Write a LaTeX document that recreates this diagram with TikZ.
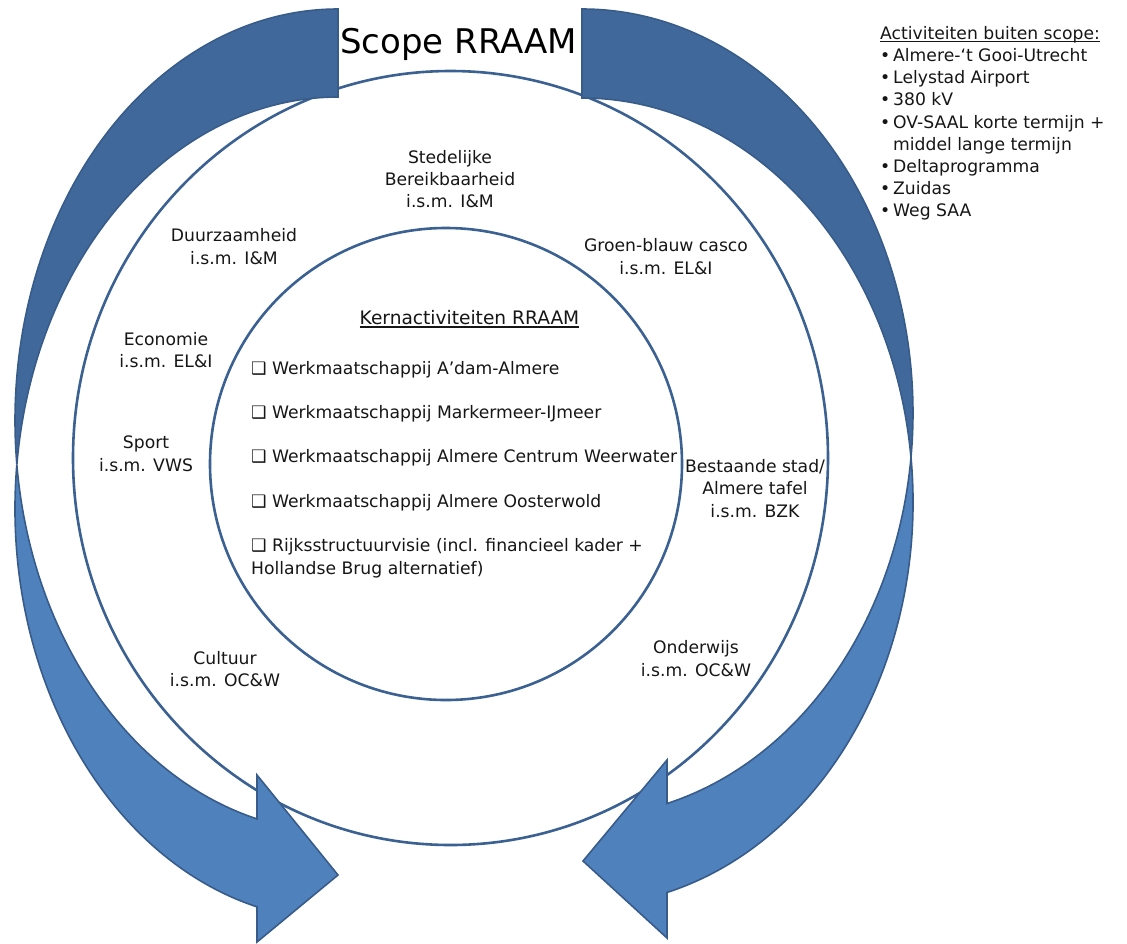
\documentclass[tikz,border=0pt]{standalone}
\usepackage{fontspec}
\setmainfont{DejaVu Sans}
\definecolor{ringc}{RGB}{59,97,146}
\definecolor{backfill}{RGB}{64,104,154}
\definecolor{frontfill}{RGB}{79,129,189}
\definecolor{bandline}{RGB}{56,92,138}
\definecolor{txt}{RGB}{22,22,22}
\newcommand\ulx[1]{\setbox0\hbox{#1}\rlap{\rule[-2.6pt]{\wd0}{1.1pt}}\box0}
\begin{document}
\begin{tikzpicture}[x=1pt,y=-1pt,
  ring/.style={draw=ringc, line width=2.6pt},
  band/.style={draw=bandline, line width=1.6pt, line join=miter},
  lbl/.style={align=center, font=\fontsize{17.2}{22.3}\selectfont, text=txt, inner sep=0pt},
  item/.style={align=left, anchor=west, font=\fontsize{17.2}{22.3}\selectfont, text=txt, inner sep=0pt},
]
\useasboundingbox (0,0) rectangle (1127,943);
\fill[white] (0,0) rectangle (1127,943);

% rings
\draw[ring] (450.5,458) ellipse [x radius=377.5, y radius=387];
\draw[ring] (446,464) circle [radius=236];

% left curved arrow: back part (between ellipse E1 centre (338,420.5) and E2 centre (338,508.5))
\filldraw[band, fill=backfill] (338,9)
  arc[start angle=270, end angle=173.86, x radius=323, y radius=411.5]
  arc[start angle=186.14, end angle=270, x radius=323, y radius=411.5] -- cycle;
% left curved arrow: front part with head
\filldraw[band, fill=frontfill] (16.85,464.5)
  arc[start angle=186.14, end angle=104.52, x radius=323, y radius=411.5]
  -- (257,942) -- (338,875) -- (257,775) -- (257,818.9)
  arc[start angle=104.52, end angle=173.86, x radius=323, y radius=411.5] -- cycle;

% right curved arrow: back part (E1 centre (582,413), E2 centre (582,502))
\filldraw[band, fill=backfill] (582,9)
  arc[start angle=270, end angle=366.324, x radius=331, y radius=404]
  arc[start angle=-6.324, end angle=-90, x radius=331, y radius=404] -- cycle;
% right curved arrow: front part with head
\filldraw[band, fill=frontfill] (911,457.5)
  arc[start angle=-6.324, end angle=75.12, x radius=331, y radius=404]
  -- (667,938) -- (583,861) -- (667,760) -- (667,803.5)
  arc[start angle=75.12, end angle=6.324, x radius=331, y radius=404] -- cycle;

% title
\node[anchor=base west, inner sep=0pt, text=black, font=\fontsize{34}{40}\selectfont] (title) at (340,53) {Scope RRAAM};

% ring labels
\node[lbl] (sted) at (450,181) {\strut Stedelijke\\\strut Bereikbaarheid\\\strut i.s.m. I\&M};
\node[lbl] (duur) at (234,248.5) {\strut Duurzaamheid\\\strut i.s.m. I\&M};
\node[lbl] (groen) at (666,258.5) {\strut Groen-blauw casco\\\strut i.s.m. EL\&I};
\node[lbl] (econ) at (166,352) {\strut Economie\\\strut i.s.m. EL\&I};
\node[lbl] (sport) at (146,455.5) {\strut Sport\\\strut i.s.m. VWS};
\node[lbl] (best) at (755,490.5) {\strut Bestaande stad/\\\strut Almere tafel\\\strut i.s.m. BZK};
\node[lbl] (cult) at (225,671) {\strut Cultuur\\\strut i.s.m. OC\&W};
\node[lbl] (onder) at (696,660.5) {\strut Onderwijs\\\strut i.s.m. OC\&W};

% core activities
\node[lbl, font=\fontsize{18.6}{22.3}\selectfont] (kern) at (469.5,320.5) {\strut\ulx{Kernactiviteiten RRAAM}};
\node[item] (k1) at (251,370.5) {\strut ❑ Werkmaatschappij A’dam-Almere};
\node[item] (k2) at (251,414.5) {\strut ❑ Werkmaatschappij Markermeer-IJmeer};
\node[item] (k3) at (251,458.5) {\strut ❑ Werkmaatschappij Almere Centrum Weerwater};
\node[item] (k4) at (251,503.5) {\strut ❑ Werkmaatschappij Almere Oosterwold};
\node[item] (k5) at (251,558.5) {\strut ❑ Rijksstructuurvisie (incl. financieel kader +\\\strut Hollandse Brug alternatief)};

% out of scope list
\node[anchor=north west, align=left, inner sep=0pt, text=txt, font=\fontsize{17.2}{22.2}\selectfont] (buiten) at (880,23.5) {%
\strut\ulx{Activiteiten buiten scope:}\\
\strut\makebox[13pt][l]{•}Almere-‘t Gooi-Utrecht\\
\strut\makebox[13pt][l]{•}Lelystad Airport\\
\strut\makebox[13pt][l]{•}380 kV\\
\strut\makebox[13pt][l]{•}OV-SAAL korte termijn +\\
\strut\hspace*{13pt}middel lange termijn\\
\strut\makebox[13pt][l]{•}Deltaprogramma\\
\strut\makebox[13pt][l]{•}Zuidas\\
\strut\makebox[13pt][l]{•}Weg SAA};
\end{tikzpicture}
\end{document}
